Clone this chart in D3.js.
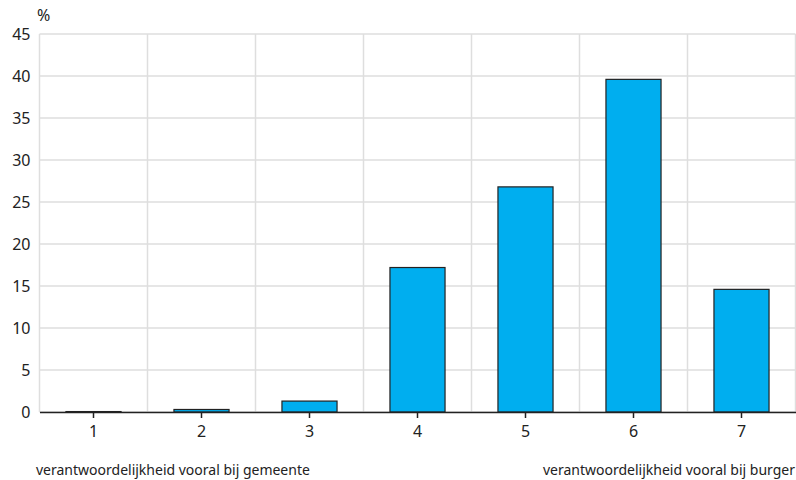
<!DOCTYPE html>
<html><head><meta charset="utf-8">
<script src="https://cdn.jsdelivr.net/npm/d3@7"></script>
<style>body{margin:0;background:#fff}svg{display:block}</style>
</head><body>
<svg id="c" width="796" height="480"></svg>
<script>
const categories = ["1","2","3","4","5","6","7"];
const values = [0.05, 0.3, 1.3, 17.2, 26.8, 39.6, 14.6];
const yTicks = [0,5,10,15,20,25,30,35,40,45];
const leftNote = "verantwoordelijkheid vooral bij gemeente";
const rightNote = "verantwoordelijkheid vooral bij burger";
const unit = "%";

const svg = d3.select("#c");
const font = "'Noto Sans', 'Open Sans', sans-serif";
const m = {l:39.5, r:795.5, t:34, b:412};
const x = d3.scaleBand().domain(categories).range([m.l, m.r]).paddingInner(0.49).paddingOuter(0.245);
const xb = d3.scaleBand().domain(categories).range([m.l, m.r]);
const y = d3.scaleLinear().domain([0,45]).range([m.b, m.t]);

const g = svg.append("g");
g.selectAll("line.h").data(yTicks).join("line")
  .attr("x1", m.l).attr("x2", m.r).attr("y1", d=>y(d)).attr("y2", d=>y(d))
  .attr("stroke", "#dedede").attr("stroke-width", 1.5);
const bounds = categories.map(c=>xb(c)).concat([m.r]);
g.selectAll("line.v").data(bounds).join("line")
  .attr("x1", d=>d).attr("x2", d=>d).attr("y1", m.t).attr("y2", m.b)
  .attr("stroke", "#dedede").attr("stroke-width", 1.5);

g.selectAll("rect").data(values).join("rect")
  .attr("x", (d,i)=>x(categories[i])).attr("width", x.bandwidth())
  .attr("y", d=>y(d)).attr("height", d=>y(0)-y(d))
  .attr("fill", "#00aeef").attr("stroke", "#222").attr("stroke-width", 1.2);

const xa = svg.append("g").attr("transform", `translate(0,${m.b})`)
  .call(d3.axisBottom(xb).tickSize(6).tickSizeOuter(0).tickPadding(8));
xa.select(".domain").attr("stroke", "#222").attr("stroke-width", 1.5);
xa.selectAll(".tick line").attr("stroke", "#222").attr("stroke-width", 1.5);
xa.selectAll("text").attr("font-family", font).attr("font-size", 16).attr("fill", "#222");

const ya = svg.append("g").attr("transform", `translate(${m.l},0)`)
  .call(d3.axisLeft(y).tickValues(yTicks).tickSize(0).tickPadding(9));
ya.select(".domain").remove();
ya.selectAll("text").attr("font-family", font).attr("font-size", 16).attr("fill", "#222");

svg.append("text").attr("x", 37).attr("y", 21).attr("font-family", font)
  .attr("font-size", 16).attr("fill", "#222").text(unit);
svg.append("text").attr("x", 36).attr("y", 475).attr("font-family", font)
  .attr("font-size", 14).attr("fill", "#222").text(leftNote);
svg.append("text").attr("x", 795).attr("y", 475).attr("text-anchor","end").attr("font-family", font)
  .attr("font-size", 14).attr("fill", "#222").text(rightNote);
</script>
</body></html>
